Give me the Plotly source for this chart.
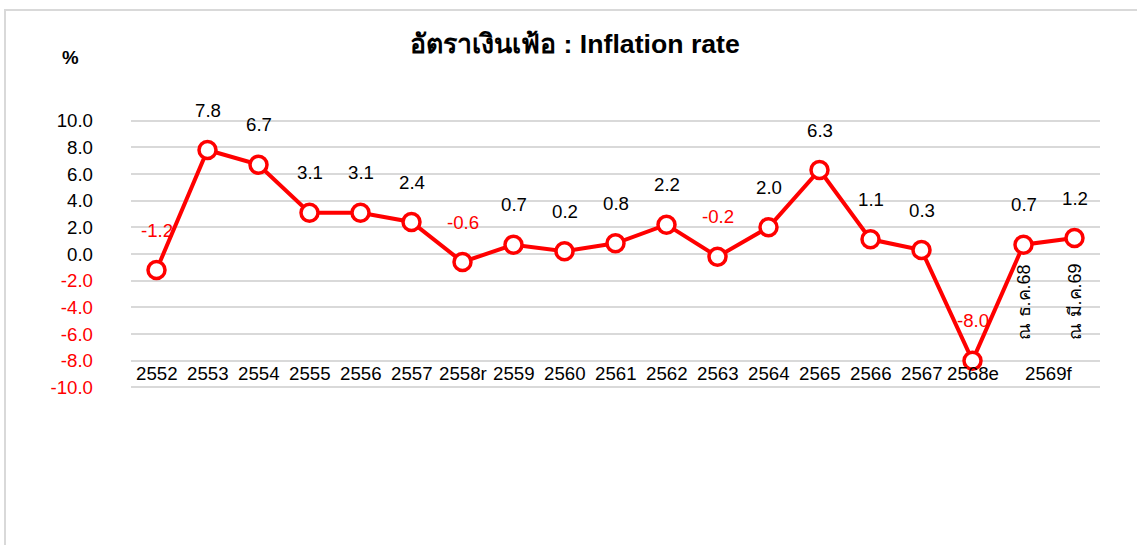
import plotly.graph_objects as go

categories = ["2552", "2553", "2554", "2555", "2556", "2557", "2558r", "2559", "2560",
              "2561", "2562", "2563", "2564", "2565", "2566", "2567", "2568e",
              "ณ ธ.ค.68", "ณ มี.ค.69"]
values = [-1.2, 7.8, 6.7, 3.1, 3.1, 2.4, -0.6, 0.7, 0.2, 0.8, 2.2, -0.2, 2.0, 6.3, 1.1, 0.3, -8.0, 0.7, 1.2]
axis_labels = ["2552", "2553", "2554", "2555", "2556", "2557", "2558r", "2559", "2560",
               "2561", "2562", "2563", "2564", "2565", "2566", "2567", "2568e", "2569f"]
axis_label_pos = list(range(17)) + [17.5]
sub_labels = ["ณ ธ.ค.68", "ณ มี.ค.69"]
y_ticks = [10, 8, 6, 4, 2, 0, -2, -4, -6, -8, -10]
axis_label_y = -8

RED = "#ff0000"
FONT = "Arial, Liberation Sans, Noto Sans, sans-serif"
x = list(range(len(values)))

fig = go.Figure()
fig.add_trace(go.Scatter(
    x=x, y=values, mode="lines+markers",
    line=dict(color=RED, width=4),
    marker=dict(symbol="circle", size=17, color="white", line=dict(color=RED, width=3.5)),
    hoverinfo="skip", showlegend=False,
))

# data labels
for xi, v in zip(x, values):
    fig.add_annotation(x=xi, y=v, xref="x", yref="y", text=f"{v:.1f}", showarrow=False,
                       yshift=40, font=dict(size=18.67, color=RED if v < 0 else "black", family=FONT))

# category labels (sitting just below the -8 gridline, as in the original)
for p, lab in zip(axis_label_pos, axis_labels):
    fig.add_annotation(x=p, y=axis_label_y, xref="x", yref="y", text=lab, showarrow=False,
                       xanchor="center", yanchor="top", yshift=0,
                       font=dict(size=18.67, color="black", family=FONT))

# rotated sub-labels for the forecast points
for i, s in enumerate(sub_labels):
    fig.add_annotation(x=17 + i, y=-3.6, xref="x", yref="y", text=s, showarrow=False,
                       textangle=-90, xanchor="center", yanchor="middle",
                       font=dict(size=18, color="black", family=FONT))

PLOT_L, PLOT_W, PLOT_B, PLOT_H = 131, 969, 545 - 155, 272
fig.add_annotation(x=(70 - PLOT_L) / PLOT_W, y=(PLOT_B - 58) / PLOT_H, xref="paper", yref="paper",
                   text="<b>%</b>", showarrow=False, xanchor="center", yanchor="middle",
                   font=dict(size=18.67, color="black", family=FONT))

tick_text = [f"{t:.1f}" if t >= 0 else f"<span style='color:{RED}'>{t:.1f}</span>" for t in y_ticks]

fig.update_layout(
    width=1137, height=545,
    margin=dict(l=131, r=37, t=118, b=155),
    paper_bgcolor="white", plot_bgcolor="white",
    title=dict(text="<b>อัตราเงินเฟ้อ : Inflation rate</b>", x=575 / 1137, y=1 - 44 / 545,
               xref="container", yref="container", xanchor="center", yanchor="middle",
               font=dict(size=26.67, color="black", family=FONT)),
    xaxis=dict(range=[-0.5, 18.5], showticklabels=False,
               showgrid=False, zeroline=False, showline=False, ticks=""),
    yaxis=dict(range=[-10.2, 10.2], tickmode="array", tickvals=y_ticks, ticktext=tick_text,
               showgrid=True, gridcolor="#d9d9d9", gridwidth=1.5, zeroline=False, showline=False,
               ticks="", ticklabelstandoff=37, tickfont=dict(size=18.67, color="black", family=FONT)),
    shapes=[dict(type="rect", xref="paper", yref="paper",
                 x0=(5 - PLOT_L) / PLOT_W, x1=1.2, y0=-0.8, y1=(PLOT_B - 10) / PLOT_H,
                 line=dict(color="#d9d9d9", width=2), fillcolor="rgba(0,0,0,0)", layer="below")],
)

fig.write_html("out.html", config={"displayModeBar": False},
               post_script="document.body.style.margin='0';")
